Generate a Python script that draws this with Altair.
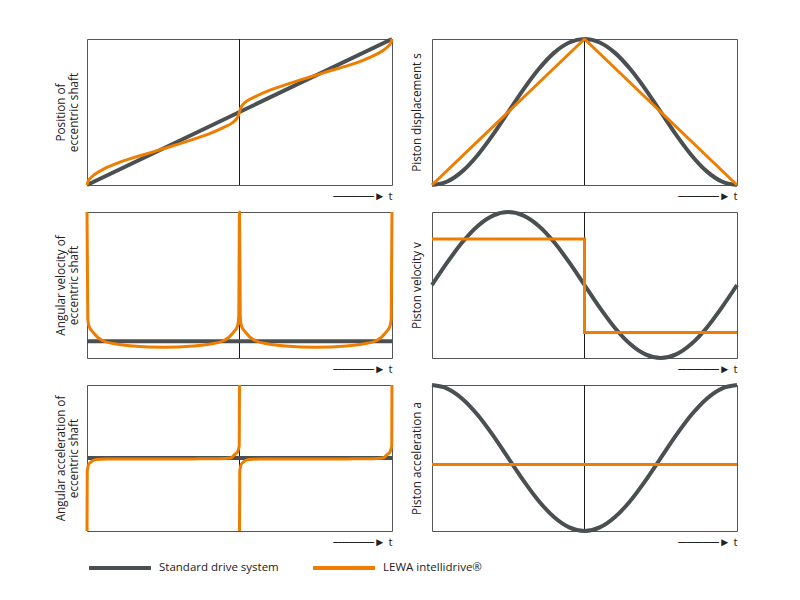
import altair as alt
import pandas as pd

FONT = "Open Sans"
GRAY = "#4a4f51"
ORANGE = "#ef7d00"
SERIES = ["Standard drive system", "LEWA intellidrive®"]
ARROW_T = "─────►  t"
MID_T = [0.5]

# ---- Position of eccentric shaft (fraction of box height)
pos_std_t = [0, 1]
pos_std_y = [0, 1]
pos_lewa_t = [0, 0.005, 0.01, 0.025, 0.05, 0.1, 0.15, 0.2, 0.25, 0.3, 0.35, 0.4, 0.45,
              0.475, 0.49, 0.495, 0.5, 0.505, 0.51, 0.525, 0.55, 0.6, 0.65, 0.7, 0.75,
              0.8, 0.85, 0.9, 0.95, 0.975, 0.99, 0.995, 1]
pos_lewa_y = [0, 0.032, 0.045, 0.072, 0.104, 0.15, 0.186, 0.216, 0.248, 0.28, 0.314, 0.35, 0.396,
              0.424, 0.452, 0.468, 0.5, 0.532, 0.548, 0.576, 0.604, 0.65, 0.686, 0.72, 0.752,
              0.784, 0.814, 0.85, 0.896, 0.928, 0.955, 0.968, 1]

# ---- Angular velocity of eccentric shaft (fraction of box height)
vel_std_t = [0, 1]
vel_std_y = [0.114, 0.114]
vel_lewa_t = [0, 0.0026, 0.0066, 0.02, 0.052, 0.095, 0.15, 0.25, 0.35, 0.405, 0.448, 0.48,
              0.4934, 0.4974, 0.5, 0.5026, 0.5066, 0.52, 0.552, 0.595, 0.65, 0.75, 0.85,
              0.905, 0.948, 0.98, 0.9934, 0.9974, 1]
vel_lewa_y = [1, 0.267, 0.219, 0.176, 0.118, 0.096, 0.082, 0.073, 0.082, 0.096, 0.118, 0.176,
              0.219, 0.28, 1, 0.28, 0.219, 0.176, 0.118, 0.096, 0.082, 0.073, 0.082,
              0.096, 0.118, 0.176, 0.219, 0.267, 1]

# ---- Angular acceleration of eccentric shaft (-1 .. 1)
acc_std_t = [0, 1]
acc_std_y = [0, 0]
acc_lewa_t = [0, 0.0008, 0.0033, 0.0066, 0.013, 0.0197, 0.03, 0.066, 0.15, 0.25, 0.35, 0.434,
              0.4705, 0.486, 0.4934, 0.4967, 0.4992, 0.5,
              0.5, 0.5008, 0.5033, 0.5066, 0.513, 0.5197, 0.53, 0.566, 0.65, 0.75, 0.85, 0.934,
              0.9705, 0.986, 0.9934, 0.9967, 0.9992, 1]
acc_lewa_y = [-1, -0.19, -0.12, -0.08, -0.055, -0.034, -0.02, -0.014, -0.014, -0.013, -0.012, -0.01,
              0.0, 0.055, 0.08, 0.12, 0.17, 1,
              -1, -0.19, -0.12, -0.08, -0.055, -0.034, -0.02, -0.014, -0.014, -0.013, -0.012, -0.01,
              0.0, 0.055, 0.08, 0.12, 0.17, 1]
acc_lewa_seg = [1] * 18 + [2] * 18

# ---- Piston curves, standard drive sampled every 0.05 of the cycle
std_t = [0, 0.05, 0.1, 0.15, 0.2, 0.25, 0.3, 0.35, 0.4, 0.45, 0.5,
         0.55, 0.6, 0.65, 0.7, 0.75, 0.8, 0.85, 0.9, 0.95, 1]
disp_std_y = [0, 0.024, 0.095, 0.206, 0.345, 0.5, 0.655, 0.794, 0.905, 0.976, 1,
              0.976, 0.905, 0.794, 0.655, 0.5, 0.345, 0.206, 0.095, 0.024, 0]
pvel_std_y = [0, 0.309, 0.588, 0.809, 0.951, 1, 0.951, 0.809, 0.588, 0.309, 0,
              -0.309, -0.588, -0.809, -0.951, -1, -0.951, -0.809, -0.588, -0.309, 0]
pacc_std_y = [1, 0.951, 0.809, 0.588, 0.309, 0, -0.309, -0.588, -0.809, -0.951, -1,
              -0.951, -0.809, -0.588, -0.309, 0, 0.309, 0.588, 0.809, 0.951, 1]

disp_lewa_t = [0, 0.5, 1]
disp_lewa_y = [0, 1, 0]
pvel_lewa_t = [0, 0.5, 0.5, 1]
pvel_lewa_y = [0.63, 0.63, -0.65, -0.65]
pacc_lewa_t = [0, 1]
pacc_lewa_y = [-0.09, -0.09]

W, H = 305, 146


def panel(s_t, s_y, l_t, l_y, ydom, title, tpad, s_interp, l_interp, l_seg=None, join="round"):
    std = pd.DataFrame({"t": s_t, "v": s_y, "series": SERIES[0]})
    lewa = pd.DataFrame({"t": l_t, "v": l_y, "series": SERIES[1],
                         "seg": l_seg if l_seg is not None else [1] * len(l_t)})
    mid = pd.DataFrame({"t": MID_T})
    x = alt.X("t:Q", scale=alt.Scale(domain=[0, 1], nice=False, zero=False),
              axis=alt.Axis(title=ARROW_T, titleAnchor="end", titlePadding=5,
                            titleFont=FONT, titleFontSize=11.5, titleColor="#222"))
    y = alt.Y("v:Q", scale=alt.Scale(domain=ydom, nice=False, zero=False),
              axis=alt.Axis(title=title, titlePadding=tpad, titleLineHeight=13))
    color = alt.Color("series:N", scale=alt.Scale(domain=SERIES, range=[GRAY, ORANGE]),
                      legend=alt.Legend(title=None))
    r = alt.Chart(mid).mark_rule(color="#1a1a1a", strokeWidth=1).encode(x=x)
    g = alt.Chart(std).mark_line(strokeWidth=4, interpolate=s_interp, strokeJoin="round").encode(
        x=x, y=y, color=color)
    o = alt.Chart(lewa).mark_line(strokeWidth=3, interpolate=l_interp, strokeJoin=join).encode(
        x=x, y=y, color=color, detail="seg:N")
    return alt.layer(r, g, o).properties(width=W, height=H)


panels = [
    panel(pos_std_t, pos_std_y, pos_lewa_t, pos_lewa_y, [0, 1],
          ["Position of", "eccentric shaft"], 8, "linear", "monotone"),
    panel(std_t, disp_std_y, disp_lewa_t, disp_lewa_y, [0, 1],
          "Piston displacement s", 10, "monotone", "linear"),
    panel(vel_std_t, vel_std_y, vel_lewa_t, vel_lewa_y, [0, 1],
          ["Angular velocity of", "eccentric shaft"], 8, "linear", "monotone"),
    panel(std_t, pvel_std_y, pvel_lewa_t, pvel_lewa_y, [-1, 1],
          "Piston velocity v", 10, "monotone", "linear", join="miter"),
    panel(acc_std_t, acc_std_y, acc_lewa_t, acc_lewa_y, [-1, 1],
          ["Angular acceleration of", "eccentric shaft"], 8, "linear", "monotone", acc_lewa_seg),
    panel(std_t, pacc_std_y, pacc_lewa_t, pacc_lewa_y, [-1, 1],
          "Piston acceleration a", 10, "monotone", "linear"),
]

chart = alt.concat(*panels, columns=2, spacing={"row": 27, "column": 40}, bounds="flush").properties(
    padding={"left": 46, "top": 28, "right": 10, "bottom": 4},
    background="white",
).configure_view(
    stroke="#555", strokeWidth=1
).configure_axis(
    grid=False, domain=False, ticks=False, labels=False,
    titleFont=FONT, titleFontSize=11.7, titleFontWeight="normal", titleColor="#222",
).configure_legend(
    orient="bottom", direction="horizontal", symbolType="stroke", symbolSize=3844,
    symbolStrokeWidth=4, labelFont=FONT, labelFontSize=11.5, labelColor="#222",
    labelOffset=6, columnPadding=26, offset=-13, padding=0,
)

chart.save("out.html", embed_options={"renderer": "svg", "actions": False})
